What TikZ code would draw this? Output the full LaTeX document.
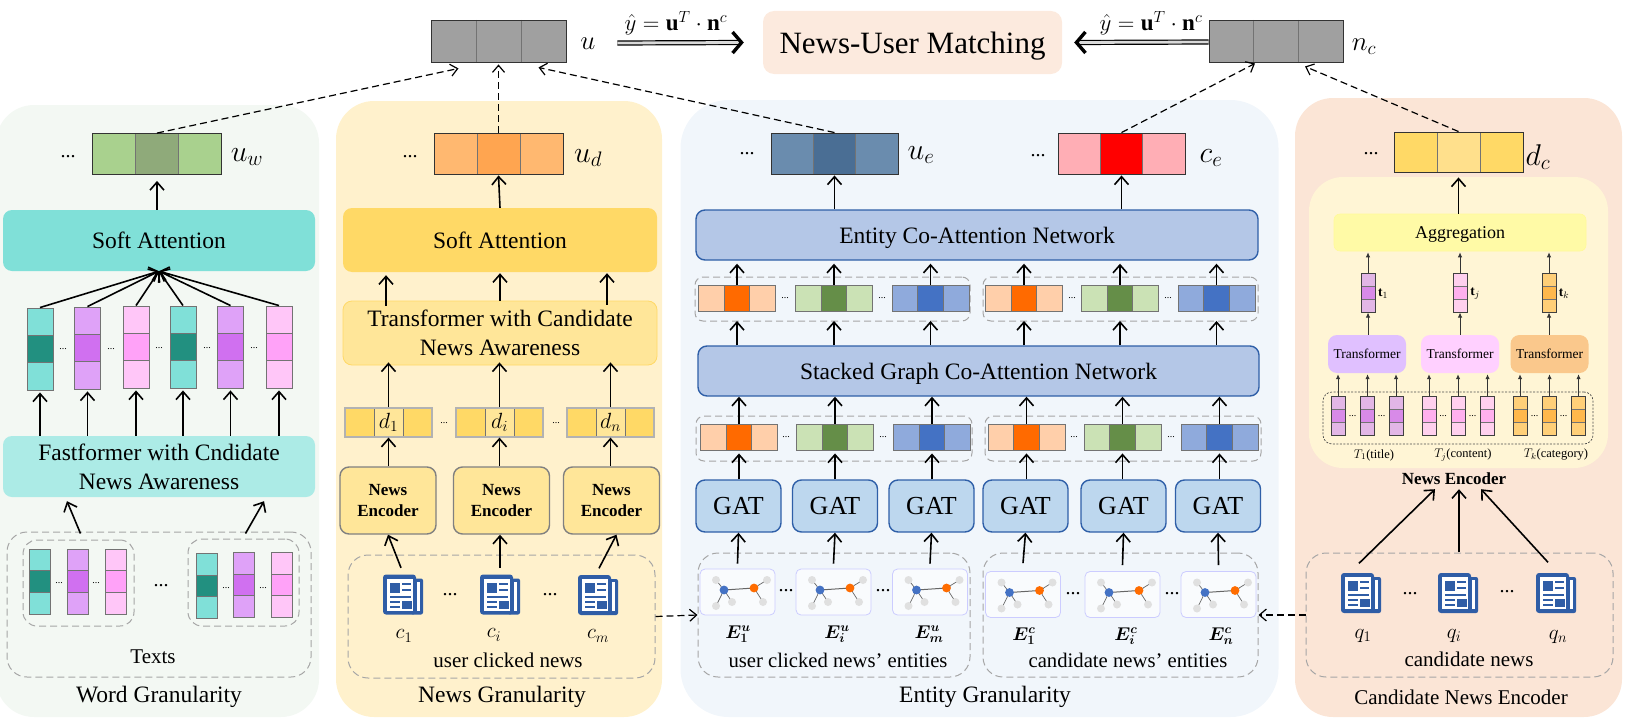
\documentclass[tikz,border=0pt]{standalone}
\usepackage{fix-cm}
\usepackage{bm}
\usepackage{fontspec}
\setmainfont{Liberation Serif}
\usetikzlibrary{arrows.meta, calc}

\definecolor{wordbg}{HTML}{F3F8F3}
\definecolor{newsbg}{HTML}{FFF1CC}
\definecolor{entitybg}{HTML}{F1F6FB}
\definecolor{candbg}{HTML}{FBE5D6}
\definecolor{innerbg}{HTML}{FFF5D5}
\definecolor{iconblue}{HTML}{2F5DA6}
\definecolor{tealbar}{HTML}{80E0D8}
\definecolor{tealmid}{HTML}{229080}
\definecolor{purplebar}{HTML}{DFA2F8}
\definecolor{purplemid}{HTML}{D070F0}
\definecolor{pinkbar}{HTML}{FFC6F8}
\definecolor{pinkmid}{HTML}{FFA2F8}
\definecolor{orangebar}{HTML}{FFCFAA}
\definecolor{orangemid}{HTML}{FF6A00}
\definecolor{greenbar}{HTML}{CBE2B5}
\definecolor{greenmid}{HTML}{658E48}
\definecolor{bluebar}{HTML}{8FAADC}
\definecolor{bluemid}{HTML}{4472C4}
\definecolor{goldbar}{HTML}{FFD966}
\definecolor{goldlight}{HTML}{FFE699}
\definecolor{goldpale}{HTML}{FFE08C}
\definecolor{edgeblue}{HTML}{2F5FA8}
\definecolor{gatfill}{HTML}{BDD7EE}
\definecolor{coattfill}{HTML}{B4C7E7}
\definecolor{uwbar}{HTML}{A9D18E}
\definecolor{uwmid}{HTML}{8FAA7A}
\definecolor{udbar}{HTML}{FFB870}
\definecolor{udmid}{HTML}{FFA550}
\definecolor{uebar}{HTML}{6A8CAE}
\definecolor{uemid}{HTML}{4A6E94}
\definecolor{cebar}{HTML}{FFAEB5}
\definecolor{grapebar}{HTML}{E2B6E6}
\definecolor{grapemid}{HTML}{D88AE8}
\definecolor{rosebar}{HTML}{FFD0EE}
\definecolor{rosemid}{HTML}{FFB0EE}
\definecolor{amberbar}{HTML}{FFCF78}
\definecolor{ambermid}{HTML}{FFB84C}
\definecolor{transa}{HTML}{E0C0FF}
\definecolor{transb}{HTML}{FFD0FF}
\definecolor{transc}{HTML}{FAC88C}
\definecolor{topgray}{HTML}{A0A0A0}

\begin{document}
\begin{tikzpicture}[
        x=1pt, y=-1pt,
        panel/.style={rectangle, rounded corners=38pt, inner sep=0pt},
        dashbox/.style={rectangle, draw=black!35, line width=1pt, dash pattern=on 7pt off 4pt, rounded corners=14pt, inner sep=0pt},
        block/.style={rectangle, rounded corners=9pt, inner sep=0pt, align=center, font=\fontsize{23.5}{29}\selectfont},
        encoder/.style={block, draw=black!50, line width=1.4pt, fill=goldlight, minimum width=96, minimum height=67, font=\bfseries\fontsize{17}{21}\selectfont},
        gat/.style={block, draw=edgeblue, line width=1.4pt, fill=gatfill, minimum width=85, minimum height=52, font=\fontsize{26}{28}\selectfont},
        coatt/.style={block, draw=edgeblue, line width=1.4pt, fill=coattfill, text depth=0pt, font=\fontsize{23.5}{28}\selectfont},
        smalltrans/.style={block, minimum width=78, minimum height=38, font=\fontsize{13.5}{16}\selectfont},
        hvec/.style 2 args={rectangle, draw=black!55, line width=0.9pt, fill=#1, inner sep=0pt, path picture={
            \fill[#2] ($(path picture bounding box.north west)!1/3!(path picture bounding box.north east)$) rectangle ($(path picture bounding box.south west)!2/3!(path picture bounding box.south east)$);
            \draw[black!55, line width=0.9pt] ($(path picture bounding box.north west)!1/3!(path picture bounding box.north east)$) -- ($(path picture bounding box.south west)!1/3!(path picture bounding box.south east)$);
            \draw[black!55, line width=0.9pt] ($(path picture bounding box.north west)!2/3!(path picture bounding box.north east)$) -- ($(path picture bounding box.south west)!2/3!(path picture bounding box.south east)$);}},
        vvec/.style 2 args={rectangle, draw=black!55, line width=0.9pt, fill=#1, inner sep=0pt, path picture={
            \fill[#2] ($(path picture bounding box.north west)!1/3!(path picture bounding box.south west)$) rectangle ($(path picture bounding box.north east)!2/3!(path picture bounding box.south east)$);
            \draw[black!55, line width=0.9pt] ($(path picture bounding box.north west)!1/3!(path picture bounding box.south west)$) -- ($(path picture bounding box.north east)!1/3!(path picture bounding box.south east)$);
            \draw[black!55, line width=0.9pt] ($(path picture bounding box.north west)!2/3!(path picture bounding box.south west)$) -- ($(path picture bounding box.north east)!2/3!(path picture bounding box.south east)$);}},
        bigvec/.style={draw=black!80, minimum width=129, minimum height=41},
        rowvec/.style={minimum width=77, minimum height=26},
        dvec/.style={draw=black!30, line width=1.2pt, minimum width=87, minimum height=29, font=\fontsize{22}{24}\selectfont},
        wbar/.style={minimum width=26, minimum height=82},
        sbar/.style={minimum width=21, minimum height=65},
        tbar/.style={draw=black!75, line width=1pt, minimum width=14, minimum height=39},
        newsicon/.style={rectangle, inner sep=0pt, minimum width=40, minimum height=41, path picture={
            \begin{scope}[shift={(path picture bounding box.center)}]
                \fill[iconblue, rounded corners=3pt] (-20,-20) rectangle (13,20);
                \fill[iconblue, rounded corners=2pt] (8,-16) rectangle (20,20);
                \fill[white] (14,-13) rectangle (17,16);
                \fill[white] (-16,-16) rectangle (10,16);
                \fill[iconblue] (-13,-12) rectangle (-3,-2);
                \fill[iconblue] (-1,-12) rectangle (8,-10);
                \fill[iconblue] (-1,-6) rectangle (8,-4);
                \fill[iconblue] (-13,1) rectangle (8,3);
                \fill[iconblue] (-13,6) rectangle (-3,8);
                \fill[iconblue] (-13,11) rectangle (-3,13);
                \fill[iconblue] (-1,6) rectangle (9,14);
            \end{scope}}},
        graphcard/.style={rectangle, draw=blue!20, line width=0.8pt, fill=white!60!entitybg, rounded corners=5pt, inner sep=0pt, minimum width=75, minimum height=46, path picture={
            \begin{scope}[shift={(path picture bounding box.center)}]
                \draw[black!60, line width=0.7pt] (-21.5,-12) -- (-13.5,-2) -- (-21.5,14);
                \draw[black!60, line width=0.7pt] (-13.5,-2) -- (-5.5,10);
                \draw[black!60, line width=0.7pt] (29.5,-12) -- (16.5,-4) -- (25.5,10);
                \draw[black!60, line width=1pt] (-13.5,-2) -- (16.5,-4);
                \fill[black!12] (-21.5,-12) circle (4);
                \fill[black!12] (29.5,-12) circle (4);
                \fill[black!12] (-21.5,14) circle (4);
                \fill[black!12] (-5.5,10) circle (4);
                \fill[black!12] (25.5,10) circle (4);
                \fill[bluemid] (-13.5,-2) circle (4.4);
                \fill[orange!85!red] (16.5,-4) circle (4.4);
            \end{scope}}},
        flow/.style={-{Straight Barb[length=8pt, width=14pt]}, line width=1.6pt, draw=black},
        thinflow/.style={-{Latex[length=5pt, width=4.5pt]}, line width=0.9pt, draw=black!80},
        dashflow/.style={-{Straight Barb[length=7pt, width=12pt]}, line width=1.2pt, draw=black, dash pattern=on 7pt off 4pt},
        fatflow/.style={-{Straight Barb[length=9pt, width=21pt, line width=3.4pt]}, line width=1.2pt, double=black!15, double distance=2.8pt, draw=black},
        caption/.style={inner sep=0pt, align=center, font=\fontsize{23.5}{26}\selectfont},
        notelabel/.style={inner sep=0pt, align=center, font=\fontsize{21}{24}\selectfont},
        mathlabel/.style={inner sep=0pt, font=\fontsize{30}{32}\selectfont},
        scorelabel/.style={inner sep=0pt, font=\fontsize{23}{25}\selectfont},
        smallmath/.style={inner sep=0pt, font=\fontsize{21}{23}\selectfont},
        entitymath/.style={inner sep=0pt, font=\fontsize{18.5}{21}\selectfont},
        typelabel/.style={inner sep=0pt, font=\fontsize{12.5}{15}\selectfont},
        bigdots/.style={inner sep=0pt, font=\fontsize{20}{22}\selectfont},
        tinydots/.style={inner sep=0pt, font=\fontsize{10}{12}\selectfont}
    ]
        \useasboundingbox (0,0) rectangle (1637,717);

        % Background panels
        \node[panel, fill=wordbg, minimum width=323, minimum height=612] (wordpanel) at (157.5,411) {};
        \node[panel, fill=newsbg, minimum width=326, minimum height=616] (newspanel) at (499,409) {};
        \node[panel, rounded corners=48pt, fill=entitybg, minimum width=598, minimum height=617] (entitypanel) at (979.5,408.5) {};
        \node[panel, fill=candbg, minimum width=327, minimum height=619] (candpanel) at (1458.5,407.5) {};
        \node[panel, rounded corners=34pt, fill=innerbg, minimum width=299, minimum height=291] (innerpanel) at (1458.5,322.5) {};

        % Matching (top)
        \node[block, rounded corners=11pt, fill=candbg!80!white, minimum width=299, minimum height=63, text depth=0pt, font=\fontsize{31}{34}\selectfont] (matching) at (912.5,42.5) {News-User Matching};
        \node[hvec={topgray}{topgray}, bigvec, minimum width=135, minimum height=42] (u) at (498.5,41) {};
        \node[hvec={topgray}{topgray}, bigvec, minimum width=134, minimum height=42] (nc) at (1276,41) {};
        \node[mathlabel, font=\fontsize{27}{30}\selectfont] (ulabel) at (588,44) {$u$};
        \node[mathlabel, font=\fontsize{27}{30}\selectfont] (nclabel) at (1364,47) {$n_c$};
        \node[scorelabel] (scoreu) at (676,23) {$\hat{y}=\mathbf{u}^{T}\cdot\mathbf{n}^{c}$};
        \node[scorelabel] (scoren) at (1151,23) {$\hat{y}=\mathbf{u}^{T}\cdot\mathbf{n}^{c}$};
        \draw[fatflow] ([xshift=51pt,yshift=-2pt]u.east) -- ([xshift=-19pt]matching.west);
        \draw[fatflow] ([yshift=-1pt]nc.west) -- ([xshift=12pt]matching.east);

        % Word Granularity
        \node[hvec={uwbar}{uwmid}, bigvec] (uw) at (157,154) {};
        \node[bigdots] (uwdots) at (68,157) {...};
        \node[mathlabel] (uwlabel) at (247,157) {$u_w$};
        \node[block, fill=tealbar, minimum width=312, minimum height=61] (wsoft) at (159,240.5) {Soft Attention};
        \node[vvec={tealbar}{tealmid}, wbar] (wbar1) at (40,349) {};
        \node[vvec={purplebar}{purplemid}, wbar] (wbar2) at (87.5,348) {};
        \node[vvec={pinkbar}{pinkmid}, wbar] (wbar3) at (136,347) {};
        \node[vvec={tealbar}{tealmid}, wbar] (wbar4) at (183,347) {};
        \node[vvec={purplebar}{purplemid}, wbar] (wbar5) at (230.5,347) {};
        \node[vvec={pinkbar}{pinkmid}, wbar] (wbar6) at (279,347) {};
        \node[tinydots] (wdots1) at (63,349) {...};
        \node[tinydots] (wdots2) at (111,349) {...};
        \node[tinydots] (wdots3) at (159,348) {...};
        \node[tinydots] (wdots4) at (207,348) {...};
        \node[tinydots] (wdots5) at (254,348) {...};
        \node[block, fill=tealbar!65, minimum width=312, minimum height=61] (wfast) at (159,466.5) {Fastformer with Cndidate\\News Awareness};
        \node[dashbox, rounded corners=20pt, minimum width=304, minimum height=145] (wtexts) at (159,604.5) {};
        \node[dashbox, minimum width=111, minimum height=86] (wgroup1) at (78.5,583) {};
        \node[dashbox, minimum width=111, minimum height=87] (wgroup2) at (243.5,582.5) {};
        \node[vvec={tealbar}{tealmid}, sbar] (sbar1) at (39.5,581.5) {};
        \node[vvec={purplebar}{purplemid}, sbar] (sbar2) at (78,581.5) {};
        \node[vvec={pinkbar}{pinkmid}, sbar] (sbar3) at (115.5,581.5) {};
        \node[vvec={tealbar}{tealmid}, sbar] (sbar4) at (207,586) {};
        \node[vvec={purplebar}{purplemid}, sbar] (sbar5) at (244,585) {};
        \node[vvec={pinkbar}{pinkmid}, sbar] (sbar6) at (282,585) {};
        \node[tinydots] (sdots1) at (59,583) {...};
        \node[tinydots] (sdots2) at (96,583) {...};
        \node[tinydots] (sdots3) at (226,588) {...};
        \node[tinydots] (sdots4) at (263,588) {...};
        \node[bigdots] (sdots5) at (161,586) {...};
        \node[notelabel] (textslabel) at (153,657) {Texts};
        \node[caption] (wcaption) at (159,697) {Word Granularity};

        \draw[flow] (wsoft.north -| uw.south) -- ([yshift=-6pt]uw.south);
        \draw[flow] (wbar1.north) -- (wsoft.south);
        \draw[flow] (wbar2.north) -- (wsoft.south);
        \draw[flow] (wbar3.north) -- (wsoft.south);
        \draw[flow] (wbar4.north) -- (wsoft.south);
        \draw[flow] (wbar5.north) -- (wsoft.south);
        \draw[flow] (wbar6.north) -- (wsoft.south);
        \draw[flow] (wfast.north -| wbar1.south) -- ([yshift=-2pt]wbar1.south);
        \draw[flow] (wfast.north -| wbar2.south) -- ([yshift=-2pt]wbar2.south);
        \draw[flow] (wfast.north -| wbar3.south) -- ([yshift=-2pt]wbar3.south);
        \draw[flow] (wfast.north -| wbar4.south) -- ([yshift=-2pt]wbar4.south);
        \draw[flow] (wfast.north -| wbar5.south) -- ([yshift=-2pt]wbar5.south);
        \draw[flow] (wfast.north -| wbar6.south) -- ([yshift=-2pt]wbar6.south);
        \draw[flow] ([xshift=2pt,yshift=6pt]wgroup1.north) -- ([xshift=-92pt,yshift=-4pt]wfast.south);
        \draw[flow] ([xshift=2pt,yshift=5pt]wgroup2.north) -- ([xshift=105pt,yshift=-4pt]wfast.south);

        % News Granularity
        \node[hvec={udbar}{udmid}, bigvec] (ud) at (498.5,153.5) {};
        \node[bigdots] (uddots) at (410,157) {...};
        \node[mathlabel] (udlabel) at (588,158) {$u_d$};
        \node[block, fill=goldbar, minimum width=314, minimum height=64] (nsoft) at (500,240) {Soft Attention};
        \node[block, draw=goldbar, line width=0.8pt, fill=goldlight, minimum width=314, minimum height=64] (ntrans) at (500,333) {Transformer with Candidate\\News Awareness};
        \node[hvec={goldbar}{goldlight}, dvec] (d1) at (388.5,422.5) {$d_1$};
        \node[hvec={goldbar}{goldlight}, dvec] (di) at (499.5,422.5) {$d_i$};
        \node[hvec={goldbar}{goldlight}, dvec] (dn) at (610.5,422.5) {$d_n$};
        \node[tinydots] (ddots1) at (444,423) {...};
        \node[tinydots] (ddots2) at (556,423) {...};
        \node[encoder] (enc1) at (388,500.5) {News\\Encoder};
        \node[encoder] (enc2) at (501.5,500.5) {News\\Encoder};
        \node[encoder] (enc3) at (611.5,500.5) {News\\Encoder};
        \node[dashbox, rounded corners=20pt, minimum width=307, minimum height=123] (clickbox) at (501.5,616.5) {};
        \node[newsicon] (c1) at (403,594.5) {};
        \node[newsicon] (ci) at (500,594.5) {};
        \node[newsicon] (cm) at (598,595) {};
        \node[bigdots] (cdots1) at (450,595) {...};
        \node[bigdots] (cdots2) at (550,595) {...};
        \node[smallmath] (c1label) at (404,636) {$c_1$};
        \node[smallmath] (cilabel) at (494,635) {$c_i$};
        \node[smallmath] (cmlabel) at (598,636) {$c_m$};
        \node[notelabel] (clicklabel) at (508,660) {user clicked news};
        \node[caption] (ncaption) at (502,697) {News Granularity};

        \draw[flow] (nsoft.north) -- ([yshift=-1pt]ud.south);
        \draw[flow] ([xshift=-114pt,yshift=-5pt]ntrans.north) -- ([xshift=-114pt,yshift=-3pt]nsoft.south);
        \draw[flow] (ntrans.north) -- ([yshift=-1pt]nsoft.south);
        \draw[flow] ([xshift=107pt,yshift=-4pt]ntrans.north) -- ([xshift=107pt,yshift=-1pt]nsoft.south);
        \draw[flow] (d1.north) -- ([yshift=3pt]d1.north |- ntrans.south);
        \draw[flow] (di.north) -- ([yshift=3pt]di.north |- ntrans.south);
        \draw[flow] (dn.north) -- ([yshift=3pt]dn.north |- ntrans.south);
        \draw[flow] (d1.south |- enc1.north) -- (d1.south);
        \draw[flow] (di.south |- enc2.north) -- (di.south);
        \draw[flow] (dn.south |- enc3.north) -- (dn.south);
        \draw[flow] ([xshift=-2pt,yshift=6pt]c1.north) -- (enc1.south);
        \draw[flow] ([yshift=6pt]ci.north) -- (ci.north |- enc2.south);
        \draw[flow] ([xshift=1pt,yshift=6pt]cm.north) -- ([xshift=5pt]enc3.south);

        % Entity Granularity
        \node[hvec={uebar}{uemid}, bigvec, minimum width=127] (ue) at (834.5,153.5) {};
        \node[hvec={cebar}{red}, bigvec, minimum width=127] (ce) at (1121.5,153.5) {};
        \node[bigdots] (uedots) at (747,154) {...};
        \node[bigdots] (cedots) at (1038,156) {...};
        \node[mathlabel] (uelabel) at (921,155) {$u_e$};
        \node[mathlabel] (celabel) at (1211,158) {$c_e$};
        \node[coatt, minimum width=562, minimum height=50] (ecoatt) at (977,235) {Entity Co-Attention Network};
        \node[dashbox, minimum width=275, minimum height=44, rounded corners=8pt] (toprow1) at (832.5,299) {};
        \node[dashbox, minimum width=275, minimum height=44, rounded corners=8pt] (toprow2) at (1120.5,299) {};
        \node[hvec={orangebar}{orangemid}, rowvec] (ta1) at (737,298.5) {};
        \node[hvec={greenbar}{greenmid}, rowvec] (ta2) at (834,298.5) {};
        \node[hvec={bluebar}{bluemid}, rowvec] (ta3) at (930.5,298.5) {};
        \node[hvec={orangebar}{orangemid}, rowvec] (ta4) at (1024,298.5) {};
        \node[hvec={greenbar}{greenmid}, rowvec] (ta5) at (1120,298.5) {};
        \node[hvec={bluebar}{bluemid}, rowvec] (ta6) at (1216.5,298.5) {};
        \node[tinydots] (tdots1) at (785,298) {...};
        \node[tinydots] (tdots2) at (882,298) {...};
        \node[tinydots] (tdots3) at (1072,298) {...};
        \node[tinydots] (tdots4) at (1168,298) {...};
        \node[coatt, minimum width=561, minimum height=50] (estack) at (978.5,371) {Stacked Graph Co-Attention Network};
        \node[dashbox, minimum width=276, minimum height=45, rounded corners=8pt] (midrow1) at (834,438.5) {};
        \node[dashbox, minimum width=276, minimum height=45, rounded corners=8pt] (midrow2) at (1123,438.5) {};
        \node[hvec={orangebar}{orangemid}, rowvec] (ma1) at (739,437) {};
        \node[hvec={greenbar}{greenmid}, rowvec] (ma2) at (835,437) {};
        \node[hvec={bluebar}{bluemid}, rowvec] (ma3) at (932,437) {};
        \node[hvec={orangebar}{orangemid}, rowvec] (ma4) at (1026.5,437) {};
        \node[hvec={greenbar}{greenmid}, rowvec] (ma5) at (1122.5,437) {};
        \node[hvec={bluebar}{bluemid}, rowvec] (ma6) at (1219.5,437) {};
        \node[tinydots] (mdots1) at (786,437) {...};
        \node[tinydots] (mdots2) at (883,437) {...};
        \node[tinydots] (mdots3) at (1074,437) {...};
        \node[tinydots] (mdots4) at (1171,437) {...};
        \node[gat] (gat1) at (738.5,506) {GAT};
        \node[gat] (gat2) at (835,506) {GAT};
        \node[gat] (gat3) at (931.5,506) {GAT};
        \node[gat] (gat4) at (1025.5,506) {GAT};
        \node[gat] (gat5) at (1123.5,506) {GAT};
        \node[gat] (gat6) at (1218,506) {GAT};
        \node[dashbox, rounded corners=20pt, minimum width=272, minimum height=124] (ebox1) at (834,615) {};
        \node[dashbox, rounded corners=20pt, minimum width=275, minimum height=124] (ebox2) at (1120.5,615) {};
        \node[graphcard] (card1) at (737.5,592) {};
        \node[graphcard] (card2) at (833.5,592) {};
        \node[graphcard] (card3) at (930,592) {};
        \node[graphcard] (card4) at (1023,594.5) {};
        \node[graphcard] (card5) at (1122.5,594.5) {};
        \node[graphcard] (card6) at (1218.5,594.5) {};
        \node[bigdots] (edots1) at (786,591) {...};
        \node[bigdots] (edots2) at (883,591) {...};
        \node[bigdots] (edots3) at (1073,594) {...};
        \node[bigdots] (edots4) at (1172,594) {...};
        \node[entitymath] (e1u) at (738,634) {$\bm{E_1^u}$};
        \node[entitymath] (eiu) at (837,634) {$\bm{E_i^u}$};
        \node[entitymath] (emu) at (929,634) {$\bm{E_m^u}$};
        \node[entitymath] (e1c) at (1024,636) {$\bm{E_1^c}$};
        \node[entitymath] (eic) at (1126,636) {$\bm{E_i^c}$};
        \node[entitymath] (enc) at (1221,636) {$\bm{E_n^c}$};
        \node[notelabel, font=\fontsize{20.7}{24}\selectfont] (eclick) at (838,660) {user clicked news’ entities};
        \node[notelabel, font=\fontsize{20.7}{24}\selectfont] (ecand) at (1128,660) {candidate news’ entities};
        \node[caption] (ecaption) at (985,697) {Entity Granularity};

        \draw[flow] (ue.south |- ecoatt.north) -- ([yshift=-1pt]ue.south);
        \draw[flow] (ce.south |- ecoatt.north) -- ([yshift=-1pt]ce.south);
        \draw[flow] (ta1.north) -- ([yshift=-3pt]ta1.north |- ecoatt.south);
        \draw[flow] (ta2.north) -- ([yshift=-3pt]ta2.north |- ecoatt.south);
        \draw[flow] (ta3.north) -- ([yshift=-3pt]ta3.north |- ecoatt.south);
        \draw[flow] (ta4.north) -- ([yshift=-3pt]ta4.north |- ecoatt.south);
        \draw[flow] (ta5.north) -- ([yshift=-3pt]ta5.north |- ecoatt.south);
        \draw[flow] (ta6.north) -- ([yshift=-3pt]ta6.north |- ecoatt.south);
        \draw[flow] (ta1.south |- estack.north) -- ([yshift=-9pt]ta1.south);
        \draw[flow] (ta2.south |- estack.north) -- ([yshift=-9pt]ta2.south);
        \draw[flow] (ta3.south |- estack.north) -- ([yshift=-9pt]ta3.south);
        \draw[flow] (ta4.south |- estack.north) -- ([yshift=-9pt]ta4.south);
        \draw[flow] (ta5.south |- estack.north) -- ([yshift=-9pt]ta5.south);
        \draw[flow] (ta6.south |- estack.north) -- ([yshift=-9pt]ta6.south);
        \draw[flow] (ma1.north) -- (ma1.north |- estack.south);
        \draw[flow] (ma2.north) -- (ma2.north |- estack.south);
        \draw[flow] (ma3.north) -- (ma3.north |- estack.south);
        \draw[flow] (ma4.north) -- (ma4.north |- estack.south);
        \draw[flow] (ma5.north) -- (ma5.north |- estack.south);
        \draw[flow] (ma6.north) -- (ma6.north |- estack.south);
        \draw[flow] (ma1.south |- gat1.north) -- ([yshift=-3pt]ma1.south);
        \draw[flow] (ma2.south |- gat2.north) -- ([yshift=-3pt]ma2.south);
        \draw[flow] (ma3.south |- gat3.north) -- ([yshift=-3pt]ma3.south);
        \draw[flow] (ma4.south |- gat4.north) -- ([yshift=-3pt]ma4.south);
        \draw[flow] (ma5.south |- gat5.north) -- ([yshift=-3pt]ma5.south);
        \draw[flow] (ma6.south |- gat6.north) -- ([yshift=-3pt]ma6.south);
        \draw[flow] ([yshift=5pt]card1.north) -- (gat1.south);
        \draw[flow] ([yshift=5pt]card2.north) -- (gat2.south);
        \draw[flow] ([yshift=5pt]card3.north) -- (gat3.south);
        \draw[flow] ([yshift=8pt]card4.north) -- (gat4.south);
        \draw[flow] ([yshift=6pt]card5.north) -- (gat5.south);
        \draw[flow] ([yshift=6pt]card6.north) -- (gat6.south);

        % Candidate News Encoder
        \node[hvec={goldbar}{goldpale}, bigvec, minimum height=40] (dc) at (1458.5,152) {};
        \node[bigdots] (dcdots) at (1371,154) {...};
        \node[mathlabel] (dclabel) at (1538,157) {$d_c$};
        \node[block, rounded corners=6pt, draw=yellow!40, line width=0.6pt, fill=yellow!35, minimum width=252, minimum height=37, text depth=0pt, font=\fontsize{18}{21}\selectfont] (agg) at (1460,232.5) {Aggregation};
        \node[vvec={grapebar}{grapemid}, tbar] (t1) at (1368,292.5) {};
        \node[vvec={rosebar}{rosemid}, tbar] (tj) at (1460,292.5) {};
        \node[vvec={amberbar}{ambermid}, tbar] (tk) at (1549,292.5) {};
        \node[inner sep=0pt, font=\fontsize{13.5}{16}\selectfont] (t1label) at (1383,294) {$\mathbf{t}_1$};
        \node[inner sep=0pt, font=\fontsize{13.5}{16}\selectfont] (tjlabel) at (1475,294) {$\mathbf{t}_j$};
        \node[inner sep=0pt, font=\fontsize{13.5}{16}\selectfont] (tklabel) at (1564,294) {$\mathbf{t}_k$};
        \node[smalltrans, fill=transa] (trans1) at (1367,354) {Transformer};
        \node[smalltrans, fill=transb] (trans2) at (1460,354) {Transformer};
        \node[smalltrans, fill=transc] (trans3) at (1549.5,354) {Transformer};
        \node[rectangle, draw=black!70, line width=0.7pt, dash pattern=on 2pt off 1.5pt, rounded corners=9pt, minimum width=270, minimum height=52] (tokenbox) at (1458,418) {};
        \node[vvec={grapebar}{grapemid}, tbar] (b1) at (1338,415.5) {};
        \node[vvec={grapebar}{grapemid}, tbar] (b2) at (1367.5,415.5) {};
        \node[vvec={grapebar}{grapemid}, tbar] (b3) at (1396,415.5) {};
        \node[vvec={rosebar}{rosemid}, tbar] (b4) at (1429,415.5) {};
        \node[vvec={rosebar}{rosemid}, tbar] (b5) at (1458,415.5) {};
        \node[vvec={rosebar}{rosemid}, tbar] (b6) at (1487.5,415.5) {};
        \node[vvec={amberbar}{ambermid}, tbar] (b7) at (1520,415.5) {};
        \node[vvec={amberbar}{ambermid}, tbar] (b8) at (1549.5,415.5) {};
        \node[vvec={amberbar}{ambermid}, tbar] (b9) at (1578.5,415.5) {};
        \node[tinydots] (bdots1) at (1352.5,416) {...};
        \node[tinydots] (bdots2) at (1381.5,416) {...};
        \node[tinydots] (bdots3) at (1443,416) {...};
        \node[tinydots] (bdots4) at (1472.5,416) {...};
        \node[tinydots] (bdots5) at (1534.5,416) {...};
        \node[tinydots] (bdots6) at (1563.5,416) {...};
        \node[typelabel] (t1type) at (1374,455) {$T_1$(title)};
        \node[typelabel] (tjtype) at (1463,455) {$T_j$(content)};
        \node[typelabel] (tktype) at (1556,455) {$T_k$(category)};
        \node[inner sep=0pt, minimum height=20, font=\bfseries\fontsize{17}{20}\selectfont] (nenc) at (1454,479) {News Encoder};
        \node[dashbox, rounded corners=20pt, minimum width=307, minimum height=124] (canbox) at (1459.5,615) {};
        \node[newsicon] (q1) at (1361,593) {};
        \node[newsicon] (qi) at (1458,593) {};
        \node[newsicon] (qn) at (1556,593) {};
        \node[bigdots] (qdots1) at (1410,594) {...};
        \node[bigdots] (qdots2) at (1507,592) {...};
        \node[smallmath] (q1label) at (1363,636) {$q_1$};
        \node[smallmath] (qilabel) at (1454,636) {$q_i$};
        \node[smallmath] (qnlabel) at (1558,637) {$q_n$};
        \node[notelabel] (canlabel) at (1469,659) {candidate news};
        \node[caption, font=\fontsize{21}{24}\selectfont] (ccaption) at (1461,697) {Candidate News Encoder};

        \draw[flow] (dc.south |- agg.north) -- ([yshift=-5pt]dc.south);
        \draw[thinflow] (t1.north) -- ([yshift=-1pt]t1.north |- agg.south);
        \draw[thinflow] (tj.north) -- ([yshift=-1pt]tj.north |- agg.south);
        \draw[thinflow] (tk.north) -- ([yshift=-1pt]tk.north |- agg.south);
        \draw[thinflow] (t1.south |- trans1.north) -- (t1.south);
        \draw[thinflow] (tj.south |- trans2.north) -- (tj.south);
        \draw[thinflow] (tk.south |- trans3.north) -- (tk.south);
        \draw[thinflow] (b1.north) -- ([yshift=-1pt]b1.north |- trans1.south);
        \draw[thinflow] (b2.north) -- ([yshift=-1pt]b2.north |- trans1.south);
        \draw[thinflow] (b3.north) -- ([yshift=-1pt]b3.north |- trans1.south);
        \draw[thinflow] (b4.north) -- ([yshift=-1pt]b4.north |- trans2.south);
        \draw[thinflow] (b5.north) -- ([yshift=-1pt]b5.north |- trans2.south);
        \draw[thinflow] (b6.north) -- ([yshift=-1pt]b6.north |- trans2.south);
        \draw[thinflow] (b7.north) -- ([yshift=-1pt]b7.north |- trans3.south);
        \draw[thinflow] (b8.north) -- ([yshift=-1pt]b8.north |- trans3.south);
        \draw[thinflow] (b9.north) -- ([yshift=-1pt]b9.north |- trans3.south);
        \draw[flow] ([xshift=-2pt,yshift=9pt]q1.north) -- ([xshift=-19pt]nenc.south);
        \draw[flow] ([xshift=1pt,yshift=20pt]qi.north) -- ([xshift=5pt]nenc.south);
        \draw[flow] ([xshift=-8pt,yshift=10pt]qn.north) -- ([xshift=27pt]nenc.south);

        % Long dashed links
        \draw[dashflow] (uw.north) -- ([xshift=-40pt,yshift=-6pt]u.south);
        \draw[dashflow] (ud.north) -- ([yshift=-2pt]u.south);
        \draw[dashflow] (ue.north) -- ([xshift=40pt,yshift=-5pt]u.south);
        \draw[dashflow] (ce.north) -- ([xshift=-21pt,yshift=-1pt]nc.south);
        \draw[dashflow] (dc.north) -- ([xshift=29pt,yshift=-4pt]nc.south);
        \draw[dashflow] (clickbox.east) -- (ebox1.west);
        \draw[dashflow] (canbox.west) -- (ebox2.east);
    \end{tikzpicture}
\end{document}
